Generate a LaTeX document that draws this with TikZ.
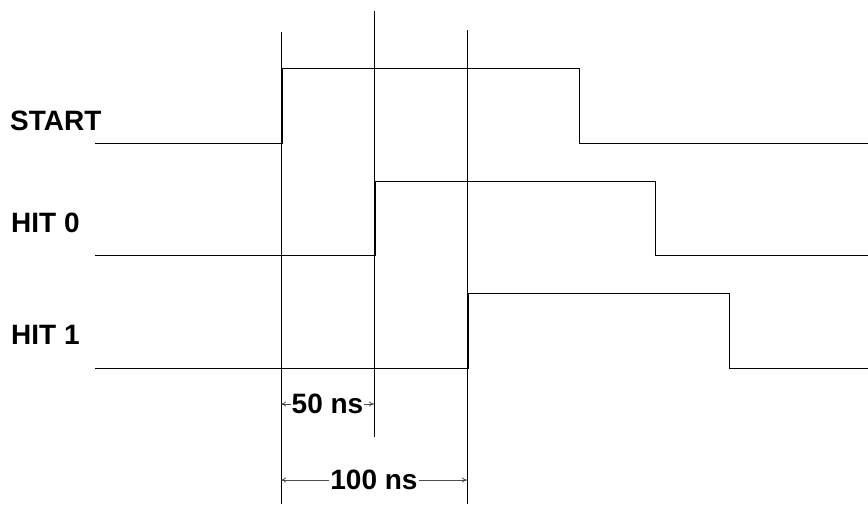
\documentclass[tikz,border=0pt]{standalone}
\usepackage{fontspec}
\setmainfont{Liberation Sans}
\usetikzlibrary{arrows.meta}
\begin{document}
\begin{tikzpicture}[x=1pt,y=-1pt,
  sig/.style={line width=1pt,black},
  grid/.style={line width=1pt,black},
  lbl/.style={font=\fontsize{28}{31}\selectfont\bfseries,anchor=base west,inner sep=0pt},
  dim/.style={line width=0.8pt,black!70,{To[length=5pt,width=5pt]}-{To[length=5pt,width=5pt]}},
  dimtxt/.style={font=\fontsize{28}{31}\selectfont\bfseries,text=black,fill=white,inner sep=1pt}]
\useasboundingbox (0,0) rectangle (868,504);
% vertical reference lines
\coordinate (v1t) at (281,32);  \coordinate (v1b) at (281,504);
\coordinate (v2t) at (374,11);  \coordinate (v2b) at (374,437);
\coordinate (v3t) at (467,30);  \coordinate (v3b) at (467,504);
\draw[grid] (v1t) -- (v1b);
\draw[grid] (v2t) -- (v2b);
\draw[grid] (v3t) -- (v3b);
% labels
\node[lbl] (start) at (10,130) {START};
\node[lbl] (hit0) at (11,232) {HIT 0};
\node[lbl] (hit1) at (11,344) {HIT 1};
% signals
\draw[sig] (95,143) -- (282,143) -- (282,68.5) -- (579.5,68.5) -- (579.5,143) -- (868,143);
\draw[sig] (95,255) -- (375,255) -- (375,181) -- (655,181) -- (655,255) -- (868,255);
\draw[sig] (95,368) -- (468,368) -- (468,293) -- (729,293) -- (729,368) -- (868,368);
% dimensions
\coordinate (a1) at (281,404); \coordinate (a2) at (374,404);
\draw[dim] (a1) -- (a2) node[dimtxt,midway] (t50) {50 ns};
\coordinate (b1) at (281,480); \coordinate (b2) at (467,480);
\draw[dim] (b1) -- (b2) node[dimtxt,midway] (t100) {100 ns};
\end{tikzpicture}
\end{document}
